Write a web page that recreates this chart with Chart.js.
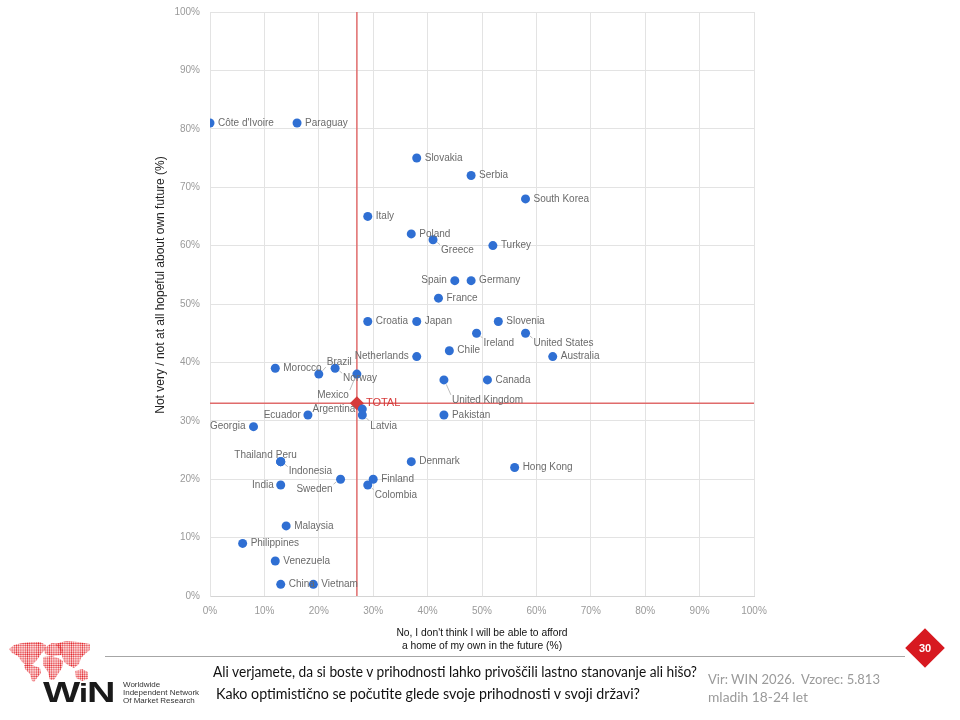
<!DOCTYPE html>
<html>
<head>
<meta charset="utf-8">
<script src="https://cdn.jsdelivr.net/npm/chart.js@4.4.1/dist/chart.umd.min.js"></script>
<style>
  html,body{margin:0;padding:0;background:#fff;}
  body{width:960px;height:720px;position:relative;overflow:hidden;font-family:"Liberation Sans",Arial,sans-serif;}
  #c{position:absolute;left:0;top:0;}
  .ft{position:absolute;white-space:nowrap;line-height:18px;transform-origin:0 50%;}
  .q{font-family:Lato,"Open Sans",sans-serif;font-size:14.5px;color:#111;}
  .src{font-family:Lato,"Open Sans",sans-serif;font-size:14px;color:#9a9a9a;}
  #rule{position:absolute;left:105px;top:656px;width:800px;height:1px;background:#a6a6a6;}
  #diamond{position:absolute;left:911px;top:634px;width:28px;height:28px;background:#d71920;transform:rotate(45deg);}
  #pg{position:absolute;left:905px;top:640px;width:40px;text-align:center;color:#fff;font:bold 11px "Liberation Sans",Arial,sans-serif;line-height:16px;}
  #win{position:absolute;left:43px;top:677px;font:bold 29px "Liberation Sans",Arial,sans-serif;color:#1a1a1a;transform:scaleX(1.36);transform-origin:0 0;letter-spacing:-1px;line-height:30px;}
  #wintxt{position:absolute;left:123px;top:681px;font:8px "Liberation Sans",Arial,sans-serif;color:#333;line-height:7.8px;}
  #map{position:absolute;left:0;top:638px;}
</style>
</head>
<body>
<canvas id="c" width="960" height="720"></canvas>

<svg id="map" width="100" height="48" viewBox="0 0 100 48">
  <defs>
    <pattern id="dots" width="2.2" height="2.2" patternUnits="userSpaceOnUse">
      <circle cx="1.1" cy="1.1" r="0.85" fill="#e3262c"/>
    </pattern>
  </defs>
  <g fill="url(#dots)">
    <polygon points="9,11 14,7 22,5 32,4 40,4 46,7 45,12 41,16 37,22 33,26 27,28 22,24 18,18 12,15"/>
    <polygon points="24,27 32,27 40,30 41,35 37,40 34,44 32,43 30,36 25,31"/>
    <polygon points="44,10 52,5 60,6 63,12 61,17 52,18 45,16"/>
    <polygon points="43,19 52,18 58,20 63,23 62,30 58,36 54,42 50,42 48,34 43,27"/>
    <polygon points="55,6 66,3 78,4 90,6 90,12 85,16 81,20 79,26 74,30 68,27 64,24 62,18 60,12"/>
    <polygon points="75,33 82,31 88,34 88,41 82,43 76,40"/>
  </g>
</svg>
<div id="win">W<span style="font-size:25px">i</span>N</div>
<div id="wintxt">Worldwide<br>Independent Network<br>Of Market Research</div>

<div id="rule"></div>
<div id="diamond"></div>
<div id="pg">30</div>

<div class="ft q" id="q1" data-w="484" style="left:213px;top:663px;">Ali verjamete, da si boste v prihodnosti lahko privoščili lastno stanovanje ali hišo?</div>
<div class="ft q" id="q2" data-w="424" style="left:216px;top:685px;">Kako optimistično se počutite glede svoje prihodnosti v svoji državi?</div>
<div class="ft src" id="s1" data-w="172" style="left:708px;top:670px;">Vir: WIN 2026.&nbsp; Vzorec: 5.813</div>
<div class="ft src" id="s2" data-w="100" style="left:708px;top:688px;">mladih 18-24 let</div>

<script>
// ---- data ----
const countries = ["Côte d'Ivoire","Paraguay","Slovakia","Serbia","South Korea","Italy","Poland","Greece","Turkey","Spain","Germany","France","Croatia","Japan","Slovenia","Ireland","United States","Chile","Australia","Netherlands","Morocco","Brazil","Norway","Mexico","United Kingdom","Canada","Argentina","Latvia","Ecuador","Pakistan","Georgia","Thailand","Peru","Indonesia","Denmark","Hong Kong","India","Sweden","Finland","Colombia","Malaysia","Philippines","Venezuela","China","Vietnam"];
const cannotAfford = [0,16,38,48,58,29,37,41,52,45,48,42,29,38,53,49,58,44,63,38,12,20,23,27,43,51,28,28,18,43,8,13,13,13,37,56,13,24,30,29,14,6,12,13,19];
const notHopeful   = [81,81,75,72,68,65,62,61,60,54,54,51,47,47,47,45,45,42,41,41,39,38,39,38,37,37,32,31,31,31,29,23,23,23,23,22,19,20,20,19,12,9,6,2,2];
const totalLabel = "TOTAL";
const totalAfford = 27;
const totalHopeless = 33;
const xTicks = [0,10,20,30,40,50,60,70,80,90,100];
const yTicks = [0,10,20,30,40,50,60,70,80,90,100];
const xTitle = ["No, I don't think I will be able to afford","a home of my own in the future (%)"];
const yTitle = "Not very / not at all hopeful about own future (%)";

// ---- label placement (styling) ----
const labelPlace = {
  "Spain":[-8,0,"right"], "Netherlands":[-8,0,"right"], "India":[-7,0,"right"],
  "Argentina":[-7,0,"right"], "Ecuador":[-7,0,"right"], "Georgia":[-8,0,"right"],
  "Greece":[8,10,"left",1], "Ireland":[7,10,"left",1], "United States":[8,10,"left",1],
  "United Kingdom":[8,20,"left",1], "Latvia":[8,11,"left",1], "Colombia":[7,10,"left",1],
  "Indonesia":[8,10,"left",1], "Sweden":[-8,10,"right",1], "Brazil":[8,-12,"left",1],
  "Norway":[8,10,"left",1], "Mexico":[-8,21,"right",1],
  "Thailand":[-8,-6,"right"], "Peru":[-5,-6,"left"]
};

const pts = countries.map((n,i)=>({x:cannotAfford[i], y:notHopeful[i]}));

const labelPlugin = {
  id:'pointLabels',
  afterDatasetsDraw(chart){
    const ctx = chart.ctx;
    ctx.save();
    ctx.font = '10px "Liberation Sans", Arial, sans-serif';
    ctx.textBaseline = 'middle';
    const meta = chart.getDatasetMeta(0);
    meta.data.forEach((el,i)=>{
      const name = countries[i];
      const p = labelPlace[name] || [8,0,"left"];
      const tx = el.x + p[0], ty = el.y + p[1];
      if (p[3]) {
        const sy = Math.sign(p[1]);
        ctx.strokeStyle = '#bdbdbd';
        ctx.lineWidth = 1;
        ctx.beginPath();
        const dx = tx - el.x, dy = (ty - sy*5) - el.y;
        const len = Math.hypot(dx,dy) || 1;
        ctx.moveTo(el.x + dx/len*5, el.y + dy/len*5);
        ctx.lineTo(tx - Math.sign(p[0])*1, ty - sy*5);
        ctx.stroke();
      }
      ctx.fillStyle = '#6b6b6b';
      ctx.textAlign = p[2];
      ctx.fillText(name, tx, ty);
    });
    const tm = chart.getDatasetMeta(1).data[0];
    ctx.font = '11px "Liberation Sans", Arial, sans-serif';
    ctx.fillStyle = '#d63a3a';
    ctx.textAlign = 'left';
    ctx.fillText(totalLabel, tm.x + 9, tm.y);
    ctx.restore();
  }
};

const yTitlePlugin = {
  id:'yTitle',
  afterDraw(chart){
    const ctx = chart.ctx;
    ctx.save();
    ctx.translate(161, 285);
    ctx.rotate(-Math.PI/2);
    ctx.font = '12px "Liberation Sans", Arial, sans-serif';
    ctx.fillStyle = '#222';
    ctx.textAlign = 'center';
    ctx.textBaseline = 'middle';
    ctx.fillText(yTitle, 0, 0);
    ctx.restore();
  }
};

new Chart(document.getElementById('c'), {
  type:'scatter',
  data:{
    datasets:[
      {label:'countries', data:pts, backgroundColor:'#2f6fd3', borderColor:'#2f6fd3', pointRadius:4.5, pointHoverRadius:4.5, borderWidth:0},
      {label:totalLabel, data:[{x:totalAfford,y:totalHopeless}], backgroundColor:'#d63a3a', borderColor:'#d63a3a', pointStyle:'rectRot', pointRadius:7, borderWidth:0},
      {type:'line', data:[{x:totalAfford,y:0},{x:totalAfford,y:100}], borderColor:'#e06b6b', borderWidth:1.5, pointRadius:0, showLine:true, fill:false},
      {type:'line', data:[{x:0,y:totalHopeless},{x:100,y:totalHopeless}], borderColor:'#e06b6b', borderWidth:1.5, pointRadius:0, showLine:true, fill:false}
    ]
  },
  options:{
    responsive:false, animation:false, devicePixelRatio:1,
    layout:{padding:{left:148, right:206, top:12, bottom:64}},
    plugins:{legend:{display:false}, tooltip:{enabled:false}},
    scales:{
      x:{
        type:'linear', min:0, max:100,
        afterBuildTicks(s){ s.ticks = xTicks.map(v=>({value:v})); },
        afterFit(s){ s.height = 60; s.paddingLeft = 0; s.paddingRight = 0; },
        ticks:{callback:v=>v+'%', color:'#9a9a9a', font:{size:10, family:'"Liberation Sans", Arial, sans-serif'}, padding:9, maxRotation:0},
        grid:{color:'#e3e3e3', drawTicks:false},
        border:{color:'#d4d4d4', width:1},
        title:{display:true, text:xTitle, color:'#111', font:{size:10.3, family:'"Liberation Sans Narrow", "Liberation Sans", Arial, sans-serif', lineHeight:1.26}, padding:{top:0,bottom:3}}
      },
      y:{
        type:'linear', min:0, max:100,
        afterBuildTicks(s){ s.ticks = yTicks.map(v=>({value:v})); },
        afterFit(s){ s.width = 62; s.paddingTop = 0; s.paddingBottom = 0; },
        ticks:{callback:v=>v+'%', color:'#9a9a9a', font:{size:10, family:'"Liberation Sans", Arial, sans-serif'}, padding:10},
        grid:{color:'#e3e3e3', drawTicks:false},
        border:{color:'#e3e3e3', width:1}
      }
    }
  },
  plugins:[labelPlugin, yTitlePlugin]
});

// fit footer text widths
document.querySelectorAll('.ft').forEach(el=>{
  const w = el.getBoundingClientRect().width;
  const target = +el.dataset.w;
  if (w>0) el.style.transform = 'scaleX(' + (target/w) + ')';
});
</script>
</body>
</html>
